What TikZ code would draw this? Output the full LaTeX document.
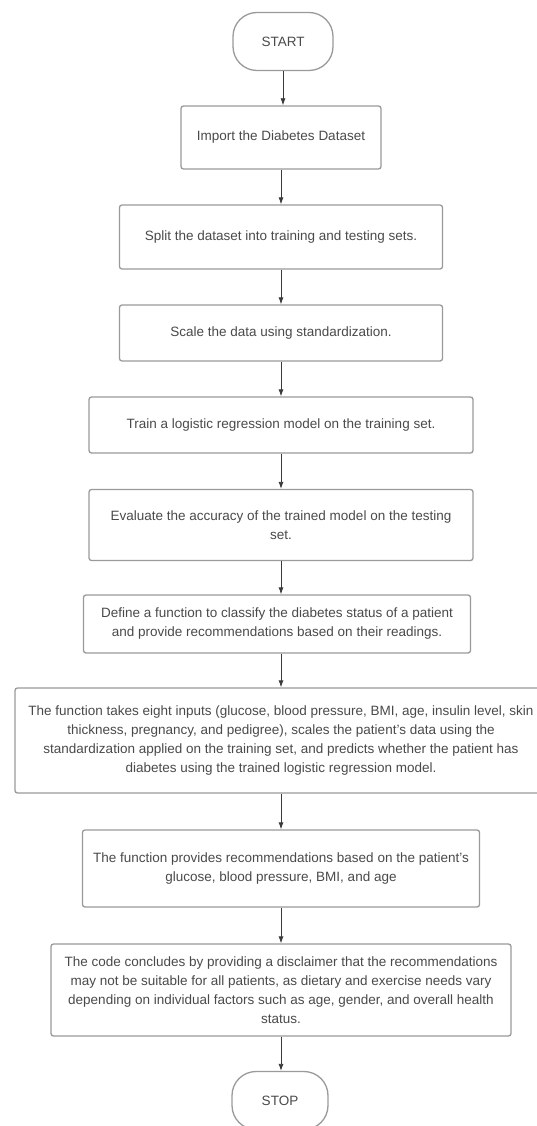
\documentclass[tikz,border=0pt]{standalone}
\usepackage{fontspec}
\setmainfont{Liberation Sans}
\usetikzlibrary{arrows.meta}
\definecolor{edgegray}{HTML}{9A9A9A}
\definecolor{textgray}{HTML}{4A4A4A}
\definecolor{arrowgray}{HTML}{3A3A3A}
\tikzset{
  procbox/.style={draw=edgegray, line width=1.3pt, rounded corners=2.5pt, fill=white,
    align=center, inner sep=0pt, text=textgray,
    font=\fontsize{13.5}{19}\selectfont},
  termbox/.style={draw=edgegray, line width=1.3pt, rounded corners=24pt, fill=white,
    align=center, inner sep=0pt, text=textgray, minimum width=100pt, minimum height=58pt,
    font=\fontsize{13.5}{19}\selectfont},
  flowarrow/.style={draw=arrowgray, line width=0.8pt, -{Latex[length=7pt,width=5pt]}}
}
\begin{document}
\begin{tikzpicture}[x=1pt,y=-1pt]
\useasboundingbox (0,0) rectangle (537,1126);
\clip (0,0) rectangle (537,1126);
\fill[white] (0,0) rectangle (537,1126);

\node[termbox] (start) at (283,41.5) {START};
\node[procbox, minimum width=200pt, minimum height=63pt] (b1) at (281,137.5)
  {Import the Diabetes Dataset};
\node[procbox, minimum width=323pt, minimum height=64pt] (b2) at (281,237)
  {Split the dataset into training and testing sets.};
\node[procbox, minimum width=323pt, minimum height=56pt] (b3) at (281,333)
  {Scale the data using standardization.};
\node[procbox, minimum width=384pt, minimum height=56pt] (b4) at (281,425)
  {Train a logistic regression model on the training set.};
\node[procbox, minimum width=384pt, minimum height=71pt] (b5) at (281,525)
  {Evaluate the accuracy of the trained model on the testing\\set.};
\node[procbox, minimum width=387pt, minimum height=58pt] (b6) at (277,624)
  {Define a function to classify the diabetes status of a patient\\and provide recommendations based on their readings.};
\node[procbox, minimum width=532pt, minimum height=105pt] (b7) at (281,740.5)
  {The function takes eight inputs (glucose, blood pressure, BMI, age, insulin level, skin\\thickness, pregnancy, and pedigree), scales the patient's data using the\\standardization applied on the training set, and predicts whether the patient has\\diabetes using the trained logistic regression model.};
\node[procbox, minimum width=397pt, minimum height=77pt] (b8) at (281,868.5)
  {The function provides recommendations based on the patient's\\glucose, blood pressure, BMI, and age};
\node[procbox, minimum width=460pt, minimum height=92pt] (b9) at (281,990)
  {The code concludes by providing a disclaimer that the recommendations\\may not be suitable for all patients, as dietary and exercise needs vary\\depending on individual factors such as age, gender, and overall health\\status.};
\node[termbox, minimum width=96pt] (stop) at (280,1100.5) {STOP};

\draw[flowarrow] (start.south) -- (b1.north -| start.south);
\draw[flowarrow] (b1.south) -- (b2.north);
\draw[flowarrow] (b2.south) -- (b3.north);
\draw[flowarrow] (b3.south) -- (b4.north);
\draw[flowarrow] (b4.south) -- (b5.north);
\draw[flowarrow] (b5.south) -- (b5.south |- b6.north);
\draw[flowarrow] (b5.south |- b6.south) -- (b7.north);
\draw[flowarrow] (b7.south) -- (b8.north);
\draw[flowarrow] (b8.south) -- (b9.north);
\draw[flowarrow] (b9.south) -- (stop.north -| b9.south);
\end{tikzpicture}
\end{document}
